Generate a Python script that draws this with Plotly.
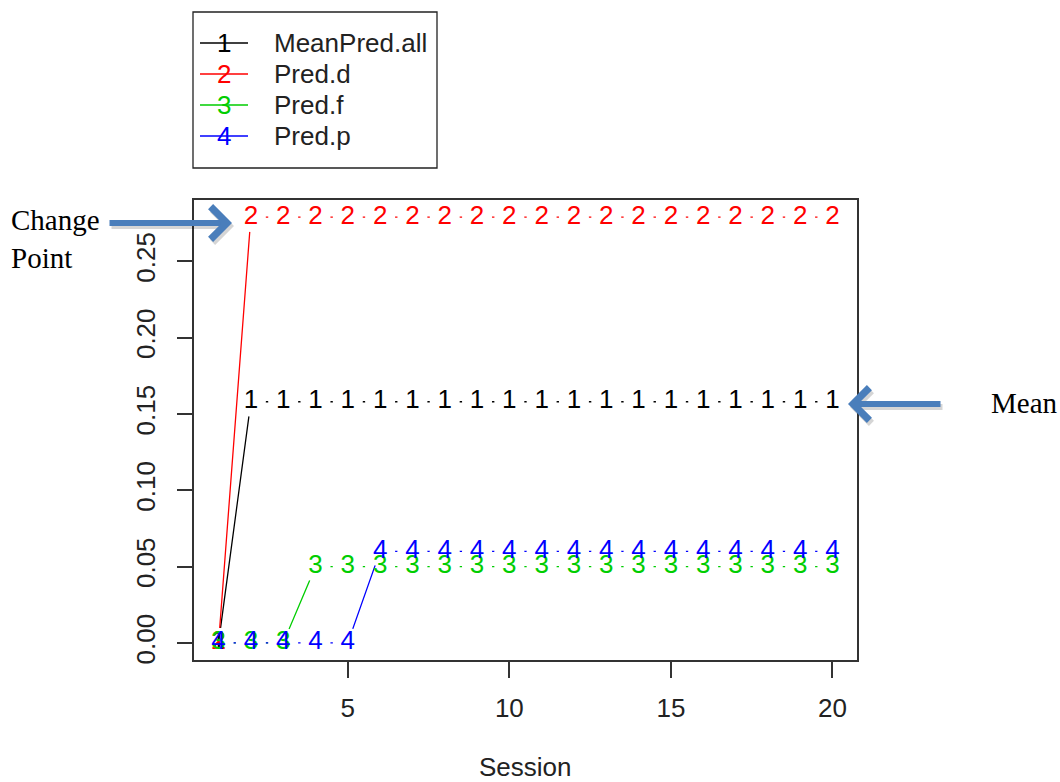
import plotly.graph_objects as go

# ---------------- data ----------------
session = list(range(1, 21))
series_names = ["MeanPred.all", "Pred.d", "Pred.f", "Pred.p"]
series_labels = ["1", "2", "3", "4"]
mean_pred_all = [0.0] + [0.158] * 19
pred_d = [0.0] + [0.279] * 19
pred_f = [0.0] * 3 + [0.05] * 17
pred_p = [0.0] * 5 + [0.06] * 15
series_values = [mean_pred_all, pred_d, pred_f, pred_p]
series_colors = ["#000000", "#FF0000", "#00CD00", "#0000FF"]
x_ticks = [5, 10, 15, 20]
y_ticks = [0.0, 0.05, 0.10, 0.15, 0.20, 0.25]

# ---------------- layout geometry ----------------
W, H = 1060, 782
ML, MR, MT, MB = 194, 203, 200, 122
PW, PH = W - ML - MR, H - MT - MB


def px(xp):
    return (xp - ML) / PW


def py(yp):
    return (H - MB - yp) / PH


FONT = "Liberation Sans, Arial, sans-serif"
SERIF = "Liberation Serif, Times New Roman, serif"
FS = 26

fig = go.Figure()

# lines with white "gap" discs (R type = "b")
for vals, col, name in zip(series_values, series_colors, series_names):
    fig.add_trace(go.Scatter(
        x=session, y=vals, mode="lines+markers", name=name,
        line=dict(color=col, width=1.3),
        marker=dict(color="white", size=30, line=dict(width=0)),
        showlegend=False, hoverinfo="skip", cliponaxis=False,
    ))

# digit symbols
for vals, col, lab, name in zip(series_values, series_colors, series_labels, series_names):
    fig.add_trace(go.Scatter(
        x=session, y=vals, mode="text", name=name,
        text=[lab] * len(session), textposition="middle center",
        textfont=dict(color=col, size=FS, family=FONT),
        showlegend=False, cliponaxis=False,
    ))

# axis ranges like R (4% extension)
xmin, xmax = min(session), max(session)
allv = [v for s in series_values for v in s]
ymin, ymax = min(allv), max(allv)
xr = [xmin - 0.04 * (xmax - xmin), xmax + 0.04 * (xmax - xmin)]
yr = [ymin - 0.04 * (ymax - ymin), ymax + 0.04 * (ymax - ymin)]

fig.update_layout(
    width=W, height=H,
    margin=dict(l=ML, r=MR, t=MT, b=MB, pad=0),
    paper_bgcolor="white", plot_bgcolor="white",
    showlegend=False,
    font=dict(family=FONT, size=FS, color="#222"),
    xaxis=dict(range=xr, tickvals=x_ticks, ticks="outside", ticklen=16,
               tickwidth=1.5, tickcolor="#333", showline=True, mirror=True,
               linecolor="#333", linewidth=1.5, showgrid=False, zeroline=False,
               tickfont=dict(size=FS, color="#222"), ticklabelstandoff=8),
    yaxis=dict(range=yr, tickvals=y_ticks, tickformat=".2f", ticks="outside",
               ticklen=15, tickwidth=1.5, tickcolor="#333", showline=True,
               mirror=True, linecolor="#333", linewidth=1.5, showgrid=False,
               zeroline=False, tickangle=-90,
               tickfont=dict(size=FS, color="#222"), ticklabelstandoff=12),
)

annotations = []
shapes = []

# x-axis title
annotations.append(dict(text="Session", x=0.5, y=py(767), xref="paper", yref="paper",
                        showarrow=False, xanchor="center", yanchor="middle",
                        font=dict(size=FS, color="#222", family=FONT)))

# custom legend (R style)
shapes.append(dict(type="rect", xref="paper", yref="paper",
                   x0=px(193), x1=px(437), y0=py(168), y1=py(12),
                   line=dict(color="#222", width=1.3), fillcolor="white", layer="above"))
row_y = [43, 74, 105, 136]
for ry, name, col, lab in zip(row_y, series_names, series_colors, series_labels):
    shapes.append(dict(type="line", xref="paper", yref="paper",
                       x0=px(200), x1=px(248), y0=py(ry), y1=py(ry),
                       line=dict(color=col, width=1.3), layer="above"))
    annotations.append(dict(text=lab, x=px(224), y=py(ry), xref="paper", yref="paper",
                            showarrow=False, xanchor="center", yanchor="middle",
                            font=dict(size=FS, color=col, family=FONT)))
    annotations.append(dict(text=name, x=px(272), y=py(ry), xref="paper", yref="paper",
                            showarrow=False, xanchor="left", yanchor="middle",
                            font=dict(size=FS, color="#222", family=FONT)))

# callout arrows
ARROW = "#4A7EBB"
for (tipx, tipy, dx) in [(232, 223, -124), (848, 404, 94)]:
    annotations.append(dict(text="", x=px(tipx + 2), y=py(tipy + 3), xref="paper", yref="paper",
                            ax=dx, ay=0, axref="pixel", ayref="pixel", showarrow=True,
                            arrowhead=4, arrowwidth=6, arrowsize=1.05,
                            arrowcolor="rgba(0,0,0,0.16)"))
    annotations.append(dict(text="", x=px(tipx), y=py(tipy), xref="paper", yref="paper",
                            ax=dx, ay=0, axref="pixel", ayref="pixel", showarrow=True,
                            arrowhead=4, arrowwidth=6, arrowsize=1.05,
                            arrowcolor=ARROW))

annotations.append(dict(text="Change<br>Point", x=px(9), y=py(239), xref="paper", yref="paper",
                        showarrow=False, xanchor="left", yanchor="middle", align="left",
                        font=dict(size=29, color="black", family=SERIF)))
annotations.append(dict(text="Mean", x=px(989), y=py(403), xref="paper", yref="paper",
                        showarrow=False, xanchor="left", yanchor="middle",
                        font=dict(size=29, color="black", family=SERIF)))

fig.update_layout(annotations=annotations, shapes=shapes)

# remove the default 8px page margin so the 1060x782 figure fills the window
fig.write_html("out.html",
               config={"displayModeBar": False},
               post_script="document.body.style.margin='0px';document.body.style.overflow='hidden';")
